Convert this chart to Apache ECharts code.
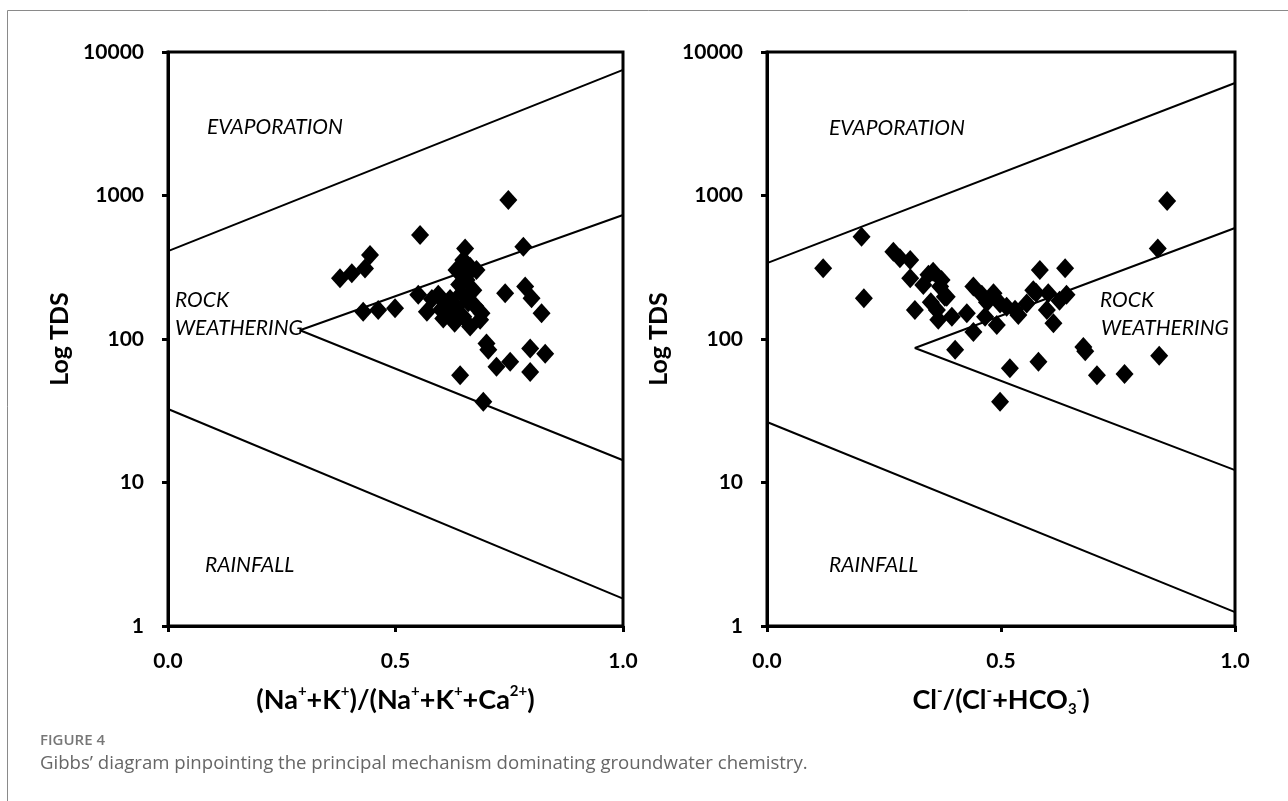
<!DOCTYPE html>
<html>
<head>
<meta charset="utf-8">
<title>Gibbs diagram</title>
<script src="https://cdn.jsdelivr.net/npm/echarts@6/dist/echarts.min.js"></script>
<style>
  html, body { margin: 0; padding: 0; background: #fff; }
  #chart { width: 1288px; height: 801px; }
</style>
</head>
<body>
<div id="chart"></div>
<script>
// tick labels
const xTicks = [0, 0.5, 1];
const yTickLabels = ['1', '10', '100', '1000', '10000'];

// Gibbs boundary lines, left plot (cation ratio)
const naEvapLine = [[0, 410], [1, 7500]];
const naRockLine = [[1, 731], [0.29, 115], [1, 14.3]];
const naRainLine = [[0, 32.5], [1, 1.55]];

// Gibbs boundary lines, right plot (anion ratio)
const clEvapLine = [[0, 338], [1, 6085]];
const clRockLine = [[1, 594], [0.316, 86.5], [1, 12.2]];
const clRainLine = [[0, 26.4], [1, 1.25]];

// samples: [(Na+K)/(Na+K+Ca), TDS]
const naSamples = [
  [0.748, 930], [0.554, 531], [0.444, 385], [0.433, 310], [0.404, 287], [0.378, 265],
  [0.653, 428], [0.781, 440], [0.429, 155], [0.462, 159], [0.499, 164], [0.55, 203],
  [0.569, 155], [0.594, 203], [0.609, 177], [0.605, 139], [0.62, 155], [0.634, 303],
  [0.649, 355], [0.664, 319], [0.678, 303], [0.656, 258], [0.671, 219], [0.645, 208],
  [0.634, 168], [0.649, 143], [0.664, 122], [0.689, 151], [0.686, 136], [0.741, 208],
  [0.785, 232], [0.799, 192], [0.821, 151], [0.70, 93], [0.704, 84], [0.796, 86],
  [0.829, 79], [0.722, 64], [0.752, 69.5], [0.796, 59], [0.642, 56], [0.693, 36.6],
  [0.62, 190], [0.64, 240], [0.66, 180], [0.675, 170], [0.60, 160], [0.58, 190],
  [0.63, 130], [0.655, 275]
];

// samples: [Cl/(Cl+HCO3), TDS]
const clSamples = [
  [0.12, 311], [0.202, 516], [0.207, 192], [0.27, 406], [0.284, 365], [0.306, 355],
  [0.316, 159], [0.306, 265], [0.334, 238], [0.355, 294], [0.373, 258], [0.38, 197],
  [0.363, 159], [0.366, 136], [0.402, 84], [0.37, 232], [0.395, 143], [0.384, 197],
  [0.427, 151], [0.441, 112], [0.441, 232], [0.459, 203], [0.484, 208], [0.466, 143],
  [0.491, 125], [0.498, 177], [0.512, 168], [0.537, 147], [0.519, 62.5], [0.498, 36.6],
  [0.555, 177], [0.569, 219], [0.583, 303], [0.637, 311], [0.601, 208], [0.598, 159],
  [0.612, 129], [0.64, 203], [0.58, 69.5], [0.676, 88], [0.68, 82], [0.705, 56],
  [0.764, 57], [0.855, 916], [0.835, 428], [0.838, 76.5],
  [0.345, 280], [0.35, 180], [0.47, 180], [0.53, 160], [0.575, 210], [0.625, 185]
];

const FONT = 'Lato, "Open Sans", sans-serif';

function xAxisOf(gridIndex, name, rich) {
  return {
    type: 'value', gridIndex: gridIndex, min: 0, max: 1, interval: 0.5,
    name: name, nameLocation: 'middle', nameGap: 58,
    nameTextStyle: { fontFamily: FONT, fontWeight: 'bold', fontSize: 27, color: '#000', rich: rich },
    axisLine: { show: true, onZero: false, lineStyle: { color: '#000', width: 3 } },
    axisTick: { show: true, length: 6, lineStyle: { color: '#000', width: 3 } },
    axisLabel: {
      margin: 25, fontFamily: FONT, fontWeight: 'bold', fontSize: 21, color: '#000',
      formatter: function (v) { return xTicks.indexOf(v) >= 0 ? v.toFixed(1) : ''; }
    },
    splitLine: { show: false }
  };
}

function yAxisOf(gridIndex) {
  return {
    type: 'log', logBase: 10, gridIndex: gridIndex, min: 1, max: 10000,
    name: 'Log TDS', nameLocation: 'middle', nameGap: 96, nameRotate: 90,
    nameMoveOverlap: false,
    nameTextStyle: { fontFamily: FONT, fontWeight: 'bold', fontSize: 25, color: '#000' },
    axisLine: { show: true, lineStyle: { color: '#000', width: 3 } },
    axisTick: { show: true, length: 6, lineStyle: { color: '#000', width: 3 } },
    axisLabel: {
      margin: 24, fontFamily: FONT, fontWeight: 'bold', fontSize: 21, color: '#000',
      formatter: function (v) {
        const i = Math.round(Math.log10(v));
        return yTickLabels[i] !== undefined ? yTickLabels[i] : '';
      }
    },
    splitLine: { show: false }
  };
}

function boundary(data, xi, yi) {
  return {
    type: 'line', xAxisIndex: xi, yAxisIndex: yi, data: data,
    symbol: 'none', silent: true, z: 3,
    lineStyle: { color: '#000', width: 2 }
  };
}

function samples(data, xi, yi) {
  return {
    type: 'scatter', xAxisIndex: xi, yAxisIndex: yi, data: data,
    symbol: 'diamond', symbolSize: [18, 20], z: 4,
    itemStyle: { color: '#000', opacity: 1 }
  };
}

const supRich = {
  sup: { fontFamily: FONT, fontWeight: 'bold', fontSize: 15, color: '#000', verticalAlign: 'top', lineHeight: 33 },
  sub: { fontFamily: FONT, fontWeight: 'bold', fontSize: 15, color: '#000', verticalAlign: 'bottom', lineHeight: 33 }
};

function regionText(x, y, text) {
  return {
    type: 'text', x: x, y: y, z: 10,
    style: { text: text, fontFamily: FONT, fontStyle: 'italic', fontSize: 21, fill: '#000', textVerticalAlign: 'middle' }
  };
}

const option = {
  backgroundColor: '#fff',
  animation: false,
  grid: [
    { left: 168, top: 52, width: 455, height: 574, show: true, borderColor: '#000', borderWidth: 3, backgroundColor: 'transparent' },
    { left: 767, top: 52, width: 468, height: 574, show: true, borderColor: '#000', borderWidth: 3, backgroundColor: 'transparent' }
  ],
  xAxis: [
    xAxisOf(0, '(Na{sup|+}+K{sup|+})/(Na{sup|+}+K{sup|+}+Ca{sup|2+})', supRich),
    xAxisOf(1, 'Cl{sup|-}/(Cl{sup|-}+HCO{sub|3}{sup|-})', supRich)
  ],
  yAxis: [yAxisOf(0), yAxisOf(1)],
  series: [
    boundary(naEvapLine, 0, 0),
    boundary(naRockLine, 0, 0),
    boundary(naRainLine, 0, 0),
    boundary(clEvapLine, 1, 1),
    boundary(clRockLine, 1, 1),
    boundary(clRainLine, 1, 1),
    samples(naSamples, 0, 0),
    samples(clSamples, 1, 1)
  ],
  graphic: [
    {
      type: 'rect', z: -1, silent: true,
      shape: { x: 7.5, y: 10.5, width: 1300, height: 900 },
      style: { fill: 'none', stroke: '#8a8a8a', lineWidth: 1 }
    },
    regionText(207, 127, 'EVAPORATION'),
    regionText(175, 300, 'ROCK'),
    regionText(175, 328, 'WEATHERING'),
    regionText(205, 565, 'RAINFALL'),
    regionText(829, 128, 'EVAPORATION'),
    regionText(1100, 300, 'ROCK'),
    regionText(1101, 328, 'WEATHERING'),
    regionText(829, 565, 'RAINFALL'),
    {
      type: 'text', x: 40, y: 741,
      style: { text: 'FIGURE 4', fontFamily: '"Open Sans", sans-serif', fontWeight: 600, fontSize: 15, fill: '#777', textVerticalAlign: 'middle' }
    },
    {
      type: 'text', x: 40, y: 764,
      style: { text: 'Gibbs\u2019 diagram pinpointing the principal mechanism dominating groundwater chemistry.', fontFamily: '"Open Sans", sans-serif', fontSize: 18.6, fill: '#666', textVerticalAlign: 'middle' }
    }
  ]
};

const myChart = echarts.init(document.getElementById('chart'));
myChart.setOption(option);
</script>
</body>
</html>
